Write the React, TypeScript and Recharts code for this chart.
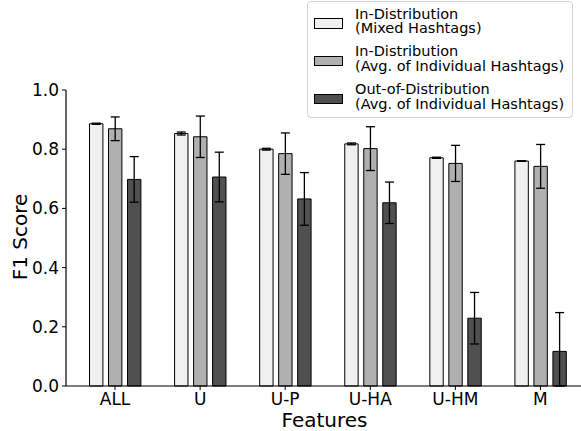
import React from 'react';
import { BarChart, Bar, XAxis, YAxis, ErrorBar } from 'recharts';

const features = ['ALL', 'U', 'U-P', 'U-HA', 'U-HM', 'M'];

const mixedScores = [0.886, 0.853, 0.8, 0.818, 0.771, 0.76];
const mixedErrors = [0.002, 0.005, 0.003, 0.003, 0.002, 0.001];

const individualScores = [0.869, 0.842, 0.785, 0.802, 0.752, 0.742];
const individualErrors = [0.04, 0.07, 0.07, 0.074, 0.061, 0.074];

const oodScores = [0.698, 0.706, 0.632, 0.619, 0.229, 0.117];
const oodErrors = [0.077, 0.084, 0.089, 0.07, 0.087, 0.131];

const yTicks = [0, 0.2, 0.4, 0.6, 0.8, 1.0];

// the axis starts at 0, so the lower whisker stops there (as in the original plot)
const errPair = (v: number, e: number) => [Math.min(e, v), e];

const data = features.map((name, i) => ({
  name,
  mixed: mixedScores[i],
  mixedErr: errPair(mixedScores[i], mixedErrors[i]),
  indiv: individualScores[i],
  indivErr: errPair(individualScores[i], individualErrors[i]),
  ood: oodScores[i],
  oodErr: errPair(oodScores[i], oodErrors[i]),
}));

const series = [
  { key: 'mixed', err: 'mixedErr', fill: '#f0f0f0', lines: ['In-Distribution', '(Mixed Hashtags)'] },
  { key: 'indiv', err: 'indivErr', fill: '#b0b0b0', lines: ['In-Distribution', '(Avg. of Individual Hashtags)'] },
  { key: 'ood', err: 'oodErr', fill: '#505050', lines: ['Out-of-Distribution', '(Avg. of Individual Hashtags)'] },
];

const FONT = '"DejaVu Sans", sans-serif';

const YLabel = () => (
  <text
    x={26.5}
    y={237}
    transform="rotate(-90 26.5 237)"
    textAnchor="middle"
    fontSize={20}
    fill="#000"
    fontFamily={FONT}
  >
    F1 Score
  </text>
);

const LegendBox = () => (
  <div
    style={{
      position: 'absolute',
      left: 307,
      top: 1,
      width: 266,
      height: 117,
      border: '1px solid #d3d3d3',
      borderRadius: 4,
      background: 'rgba(255,255,255,0.8)',
      boxSizing: 'border-box',
      fontFamily: FONT,
      fontSize: 14.5,
      lineHeight: '14.5px',
      color: '#000',
    }}
  >
    {series.map((s, i) => (
      <div key={s.key} style={{ position: 'absolute', left: 0, top: 4.6 + i * 37.7, width: '100%', height: 29 }}>
        <div
          style={{
            position: 'absolute',
            left: 6,
            top: 11.7,
            width: 29,
            height: 10.5,
            background: s.fill,
            border: '1px solid #000',
            boxSizing: 'border-box',
          }}
        />
        <div style={{ position: 'absolute', left: 47, top: 0, whiteSpace: 'nowrap' }}>
          {s.lines.map((l) => (
            <div key={l}>{l}</div>
          ))}
        </div>
      </div>
    ))}
  </div>
);

export default function App() {
  return (
    <div style={{ position: 'absolute', left: 0, top: 0, width: 581, height: 431, overflow: 'hidden', background: '#fff' }}>
      <BarChart
        width={583}
        height={431}
        data={data}
        margin={{ top: 90, right: 0, bottom: 0, left: 0 }}
        barGap={5.6}
      >
        <XAxis
          dataKey="name"
          height={45}
          padding={{ left: 6.5, right: 0 }}
          tickSize={4}
          tickMargin={3}
          axisLine={{ stroke: '#000', strokeWidth: 1.2 }}
          tickLine={{ stroke: '#000' }}
          tick={{ fontSize: 17, fill: '#000', fontFamily: FONT }}
          label={{ value: 'Features', position: 'insideBottom', offset: 4, fontSize: 20, fill: '#000', fontFamily: FONT }}
        />
        <YAxis
          width={66}
          domain={[0, 1]}
          ticks={yTicks}
          tickFormatter={(v: number) => v.toFixed(1)}
          tickSize={4}
          tickMargin={3}
          axisLine={{ stroke: '#000', strokeWidth: 1.2 }}
          tickLine={{ stroke: '#000' }}
          tick={{ fontSize: 17, fill: '#000', fontFamily: FONT }}
          label={<YLabel />}
        />
        {series.map((s) => (
          <Bar
            key={s.key}
            dataKey={s.key}
            fill={s.fill}
            stroke="#000"
            strokeWidth={1}
            barSize={13.4}
            isAnimationActive={false}
          >
            <ErrorBar dataKey={s.err} width={4.5} stroke="#000" strokeWidth={1.3} isAnimationActive={false} />
          </Bar>
        ))}
      </BarChart>
      <LegendBox />
    </div>
  );
}
